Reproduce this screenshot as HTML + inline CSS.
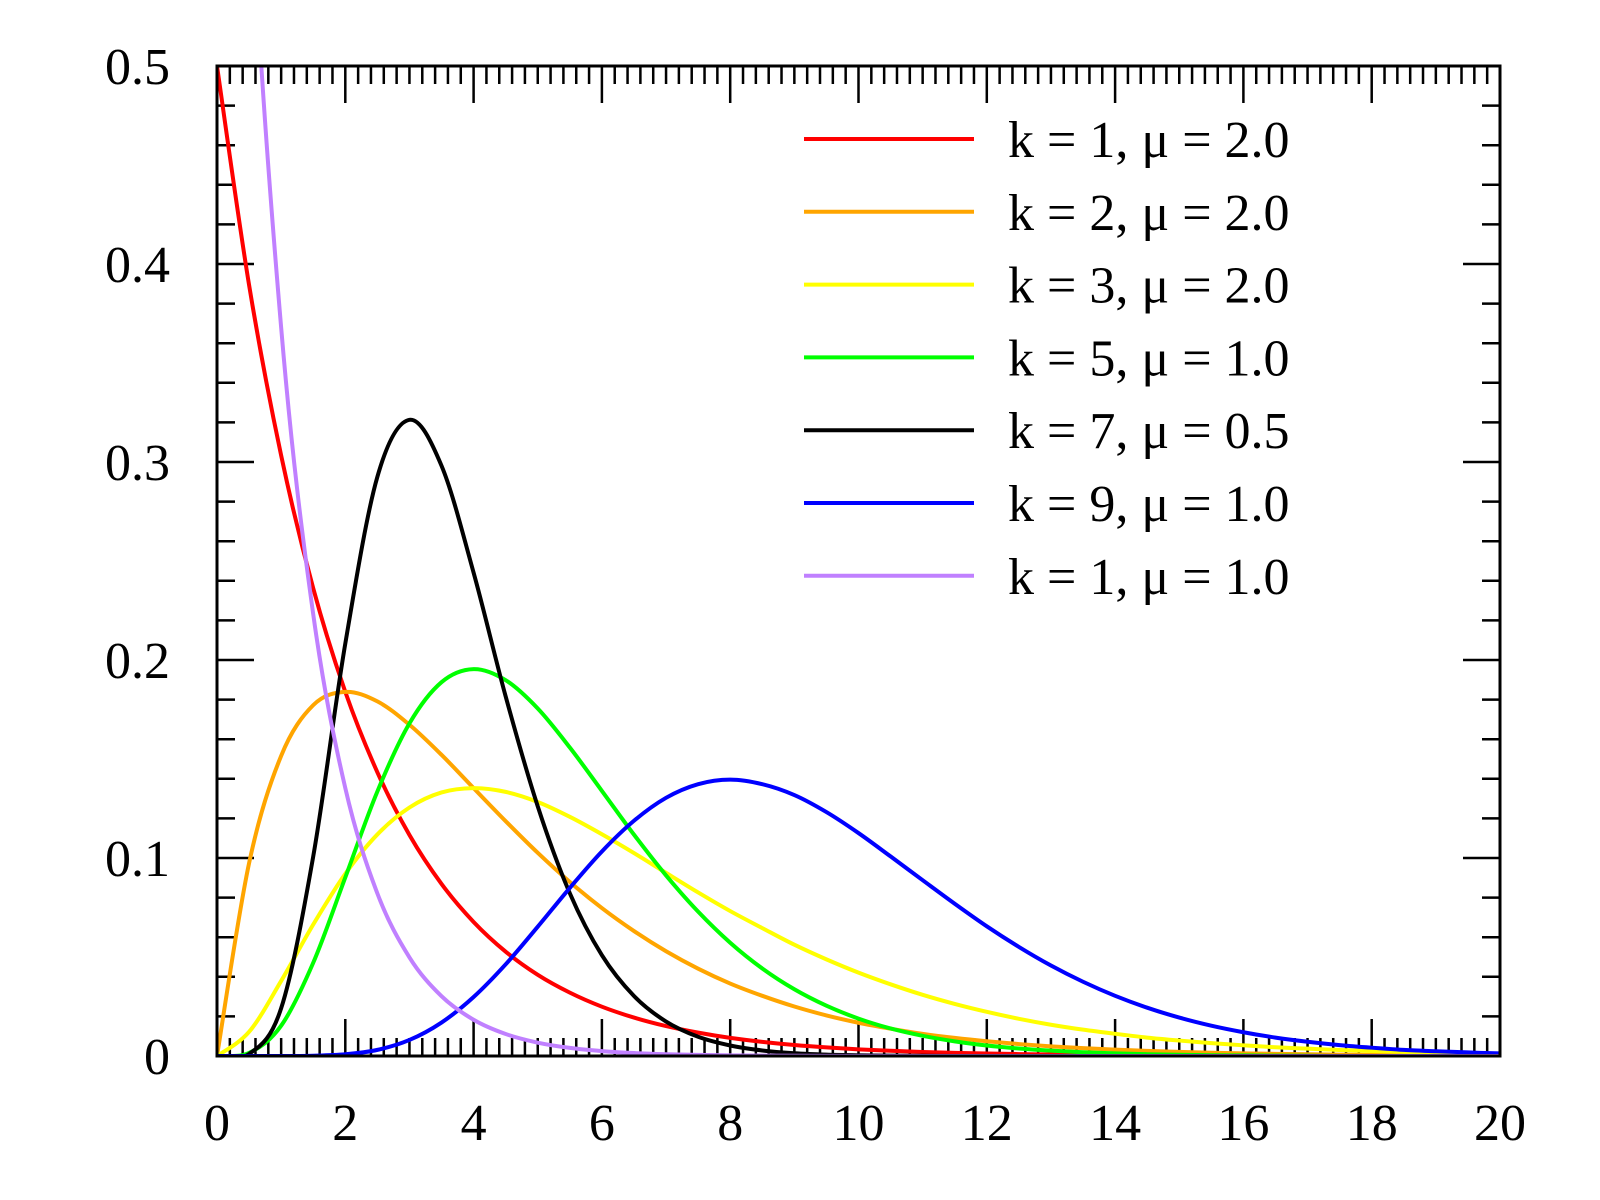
<!DOCTYPE html>
<html><head><meta charset="utf-8">
<style>
html,body{margin:0;padding:0;background:#fff;}
svg{display:block;}
text{font-family:"Liberation Serif",serif;fill:#000;}
</style></head>
<body>
<svg id="chart" width="1600" height="1200" viewBox="0 0 1600 1200" xmlns="http://www.w3.org/2000/svg">
<defs><clipPath id="plotclip"><rect x="217" y="66" width="1283" height="990"/></clipPath></defs>
<g id="ticks"></g>
<g id="series" clip-path="url(#plotclip)"></g>
<rect x="217" y="66" width="1283" height="990" fill="none" stroke="#000" stroke-width="3"/>
<g id="labels"></g>
<g id="legend"></g>
</svg>
<script>
const xs = [];
for (let i = 0; i <= 40; i++) xs.push(i * 0.5);
const xTickLabels = ["0","2","4","6","8","10","12","14","16","18","20"];
const yTickLabels = ["0","0.1","0.2","0.3","0.4","0.5"];
const seriesNames = ["k = 1, μ = 2.0","k = 2, μ = 2.0","k = 3, μ = 2.0","k = 5, μ = 1.0","k = 7, μ = 0.5","k = 9, μ = 1.0","k = 1, μ = 1.0"];
const seriesColors = ["#ff0000","#ffa500","#ffff00","#00ff00","#000000","#0000ff","#c080ff"];
const red = [.5,.3894,.3033,.2362,.1839,.1433,.1116,.0869,.0677,.0527,.0410,.0320,.0249,.0194,.0151,.0118,.00916,.00715,.00555,.00433,.00337,.00263,.00204,.00159,.00124,.00097,.00075,.00058,.00046,.00036,.00028,.00022,.00017,.00013,.0001,.00008,.00006,.00005,.00004,.00003,.00002];
const orange = [0,.0974,.1516,.1772,.1839,.1791,.1673,.1521,.1353,.1186,.1026,.0879,.0747,.0631,.0529,.0441,.0366,.0304,.0250,.0205,.0168,.0138,.0112,.00914,.00744,.00603,.00488,.00395,.00319,.00257,.00207,.00167,.00134,.00108,.00086,.00069,.00055,.00044,.00036,.00028,.00023];
const yellow = [0,.0122,.0379,.0664,.0920,.1119,.1255,.1331,.1353,.1334,.1283,.1208,.1120,.1025,.0925,.0826,.0732,.0646,.0562,.0488,.0421,.0362,.0309,.0263,.0223,.0188,.0158,.0133,.0112,.0093,.0078,.0065,.0054,.0044,.0037,.0030,.0025,.0021,.0017,.0014,.0011];
const green = [0,.00158,.0153,.0471,.0902,.1336,.1680,.1888,.1954,.1898,.1755,.1558,.1339,.1118,.0912,.0729,.0572,.0442,.0337,.0254,.0189,.0139,.0102,.0074,.0053,.0038,.0027,.0019,.0013,.0009,.0006,.0004,.0003,.0002,.0001,0,0,0,0,0,0];
const black = [0,.00102,.0241,.1008,.2083,.2925,.3213,.2981,.2441,.1816,.1261,.0822,.0509,.0303,.0174,.0097,.0053,.0028,.0014,.0007,.0004,.0002,.0001,0,0,0,0,0,0,0,0,0,0,0,0,0,0,0,0,0,0];
const blue = [0,0,.00001,.00014,.00086,.0031,.0081,.0169,.0298,.0463,.0653,.0849,.1033,.1188,.1304,.1373,.1396,.1373,.1318,.1232,.1126,.1008,.0888,.0769,.0655,.0551,.0457,.0375,.0304,.0244,.0194,.0153,.0120,.0093,.0072,.0055,.0042,.0031,.0024,.0018,.0013];
const purple = [1,.6065,.3679,.2231,.1353,.0821,.0498,.0302,.0183,.0111,.00674,.00409,.00248,.0015,.00091,.00055,.00034,.0002,.00012,.00007,.00005,.00003,.00002,.00001,0,0,0,0,0,0,0,0,0,0,0,0,0,0,0,0,0];
const seriesData = [red, orange, yellow, green, black, blue, purple];

const X0 = 217, X1 = 1500, Y0 = 1056, Y1 = 66;
const xScale = v => X0 + (v / 20) * (X1 - X0);
const yScale = v => Y0 - (v / 0.5) * (Y0 - Y1);
const NS = "http://www.w3.org/2000/svg";
function mk(tag, attrs, parent) {
  const e = document.createElementNS(NS, tag);
  for (const k in attrs) e.setAttribute(k, attrs[k]);
  parent.appendChild(e);
  return e;
}
const ticks = document.getElementById('ticks');
let d = "";
for (let i = 0; i <= 100; i++) {
  const x = xScale(i * 0.2);
  const len = (i % 10 === 0) ? 37 : 18;
  d += `M${x},${Y0}v${-len}M${x},${Y1}v${len}`;
}
for (let i = 0; i <= 25; i++) {
  const y = yScale(i * 0.02);
  const len = (i % 5 === 0) ? 37 : 18;
  d += `M${X0},${y}h${len}M${X1},${y}h${-len}`;
}
const tp = mk('path', {d: d, stroke: '#000', 'stroke-width': 2.5, fill: 'none'}, ticks);



const labels = document.getElementById('labels');
xTickLabels.forEach((t, i) => {
  const el = mk('text', {x: xScale(i * 2), y: 1140, 'font-size': 52, 'text-anchor': 'middle'}, labels);
  el.textContent = t;
  
  
});
yTickLabels.forEach((t, i) => {
  const el = mk('text', {x: 170, y: yScale(i * 0.1) + 18, 'font-size': 52, 'text-anchor': 'end'}, labels);
  el.textContent = t;
  
  
});

function smoothPath(pts) {
  let p = `M${pts[0][0]},${pts[0][1]}`;
  for (let i = 0; i < pts.length - 1; i++) {
    const p0 = pts[i - 1] || pts[i], p1 = pts[i], p2 = pts[i + 1], p3 = pts[i + 2] || p2;
    const c1x = p1[0] + (p2[0] - p0[0]) / 6, c1y = p1[1] + (p2[1] - p0[1]) / 6;
    const c2x = p2[0] - (p3[0] - p1[0]) / 6, c2y = p2[1] - (p3[1] - p1[1]) / 6;
    p += `C${c1x},${c1y} ${c2x},${c2y} ${p2[0]},${p2[1]}`;
  }
  return p;
}
const sg = document.getElementById('series');
seriesData.forEach((arr, si) => {
  const pts = arr.map((v, i) => [xScale(xs[i]), yScale(v)]);
  const path = mk('path', {d: smoothPath(pts), stroke: seriesColors[si], 'stroke-width': 4, fill: 'none', 'stroke-linejoin': 'round'}, sg);
  
  
});

const lg = document.getElementById('legend');
seriesNames.forEach((n, i) => {
  const y = 139 + i * 72.8;
  const g = mk('g', {}, lg);
  
  
  const ln = mk('line', {x1: 804, x2: 974, y1: y, y2: y, stroke: seriesColors[i], 'stroke-width': 4}, g);
  
  
  const t = mk('text', {x: 1008, y: y + 18, 'font-size': 52}, g);
  t.textContent = n;
  
  
});
</script>
</body></html>
